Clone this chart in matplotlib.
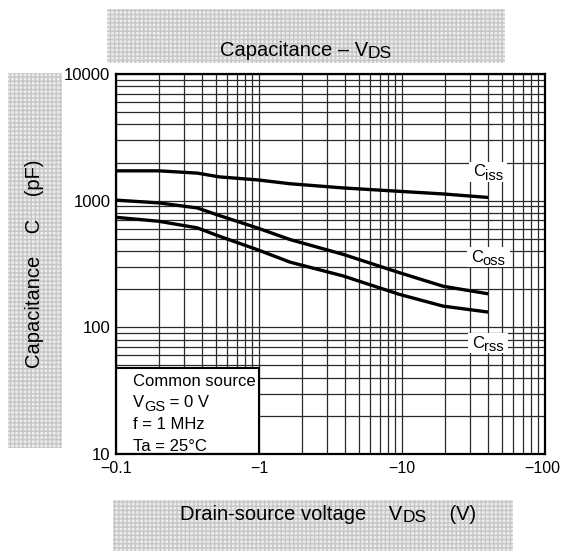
import matplotlib
matplotlib.use("Agg")
import matplotlib.pyplot as plt
from matplotlib.patches import Rectangle
from matplotlib.ticker import FixedLocator, NullFormatter
from matplotlib.transforms import blended_transform_factory, ScaledTranslation

plt.rcParams['font.family'] = ['Liberation Sans', 'DejaVu Sans']

# |V_DS| (V) and capacitances (pF)
vds = [0.1, 0.2, 0.37, 0.53, 0.97, 1.65, 3.9, 9.6, 19.4, 40]
ciss = [1720, 1720, 1650, 1540, 1460, 1360, 1260, 1185, 1130, 1060]
coss = [1010, 960, 876, 762, 610, 493, 376, 270, 211, 184]
crss = [739, 687, 610, 523, 411, 327, 254, 182, 147, 132]

x_ticks = [0.1, 1, 10, 100]
x_tick_labels = ["\u22120.1", "\u22121", "\u221210", "\u2212100"]
y_ticks = [10, 100, 1000, 10000]
y_tick_labels = ["10", "100", "1000", "10000"]

# (main text, subscript) pieces
curve_labels = [(("C", "iss"), 40, 1690),
                (("C", "oss"), 40, 356),
                (("C", "rss"), 40, 75)]
conditions = [("Common source", ""), ("V", "GS", " = 0 V"), ("f = 1 MHz", ""),
              ("Ta = 25\u00b0C", "")]

W, H = 561, 551
fig = plt.figure(figsize=(W / 100, H / 100), dpi=100)
renderer = fig.canvas.get_renderer()


def text_width(s, size):
    t = fig.text(0, 0, s, fontsize=size)
    w = t.get_window_extent(renderer).width
    t.remove()
    return w


def sub_text(x, y, pieces, size, sub_size, ha='left', zorder=4, box=False):
    """Draw text in pixel coordinates (from top-left) with subscripted parts.
    pieces alternates normal / subscript strings."""
    sizes = [size if i % 2 == 0 else sub_size for i in range(len(pieces))]
    widths = [text_width(p, s) if p else 0 for p, s in zip(pieces, sizes)]
    total = sum(widths)
    x0 = x - total / 2 if ha == 'center' else x
    if box:
        fig.patches.append(Rectangle(((x0 - 4) / W, 1 - (y + 10) / H),
                                     (total + 8) / W, 20 / H,
                                     transform=fig.transFigure,
                                     facecolor='white', edgecolor='none',
                                     zorder=3))
    for p, s, w in zip(pieces, sizes, widths):
        if p:
            dy = 0 if s == size else 4
            fig.text(x0 / W, 1 - (y + dy) / H, p, fontsize=s, ha='left',
                     va='center', zorder=zorder)
        x0 += w


# shaded label panels
def panel(x0, y0, x1, y1):
    r = Rectangle((x0 / W, 1 - y1 / H), (x1 - x0) / W, (y1 - y0) / H,
                  transform=fig.transFigure, facecolor='#ececec',
                  edgecolor='#c6c6c6', hatch='++++', linewidth=0, zorder=0)
    fig.patches.append(r)


panel(107, 9, 505, 63)
panel(8, 73, 62, 448)
panel(113, 500, 513, 551)

sub_text(306, 50, ["Capacitance \u2013 V", "DS"], 14.5, 12.5, ha='center')
fig.text(35 / W, 1 - 264 / H, "Capacitance    C    (pF)", rotation=90,
         ha='center', va='center', fontsize=14.5)
sub_text(328, 514, ["Drain-source voltage    V", "DS", "    (V)"], 14.5, 12.5,
         ha='center')

ax = fig.add_axes([116 / W, 1 - 454 / H, (545 - 116) / W, (454 - 74) / H])
ax.set_xscale('log')
ax.set_yscale('log')
ax.set_xlim(0.1, 100)
ax.set_ylim(10, 10000)
ax.set_axisbelow(True)
ax.grid(True, which='both', color='#2a2a2a', linewidth=0.9)

ax.xaxis.set_major_locator(FixedLocator(x_ticks))
ax.xaxis.set_major_formatter(NullFormatter())
ax.xaxis.set_minor_formatter(NullFormatter())
ax.set_yticks(y_ticks, y_tick_labels)
ax.yaxis.set_minor_formatter(NullFormatter())
ax.tick_params(which='both', length=0, labelsize=12)
ax.tick_params(axis='y', pad=4)
for s in ax.spines.values():
    s.set_linewidth(1.6)
    s.set_zorder(5)

# x tick labels; the last one is nudged left to stay inside the figure
xlab_tr = blended_transform_factory(ax.transData, ax.transAxes)
for i, (xv, lab) in enumerate(zip(x_ticks, x_tick_labels)):
    dx = -3 / 100 if i == len(x_ticks) - 1 else 0
    ax.text(xv, 0, lab, fontsize=11.5, ha='center', va='top',
            transform=xlab_tr + ScaledTranslation(dx, -7 / 100, fig.dpi_scale_trans),
            clip_on=False)

for c in (ciss, coss, crss):
    ax.plot(vds, c, color='black', linewidth=2.4, solid_capstyle='butt', zorder=3)

ax.add_patch(Rectangle((0.1, 10), 0.9, 38, facecolor='white', edgecolor='black',
                       linewidth=1.5, zorder=2))

# curve labels and condition box text, placed in pixel space from data coords
fig.canvas.draw()
for pieces, x, y in curve_labels:
    px, py = ax.transData.transform((x, y))
    sub_text(px, H - py, list(pieces), 12, 10.5, ha='center', zorder=6, box=True)

for i, line in enumerate(conditions):
    py = 381 + i * 21.7
    sub_text(133, py, [p for p in line], 12, 10.5, ha='left', zorder=6)

fig.savefig("out.png", dpi=100)
